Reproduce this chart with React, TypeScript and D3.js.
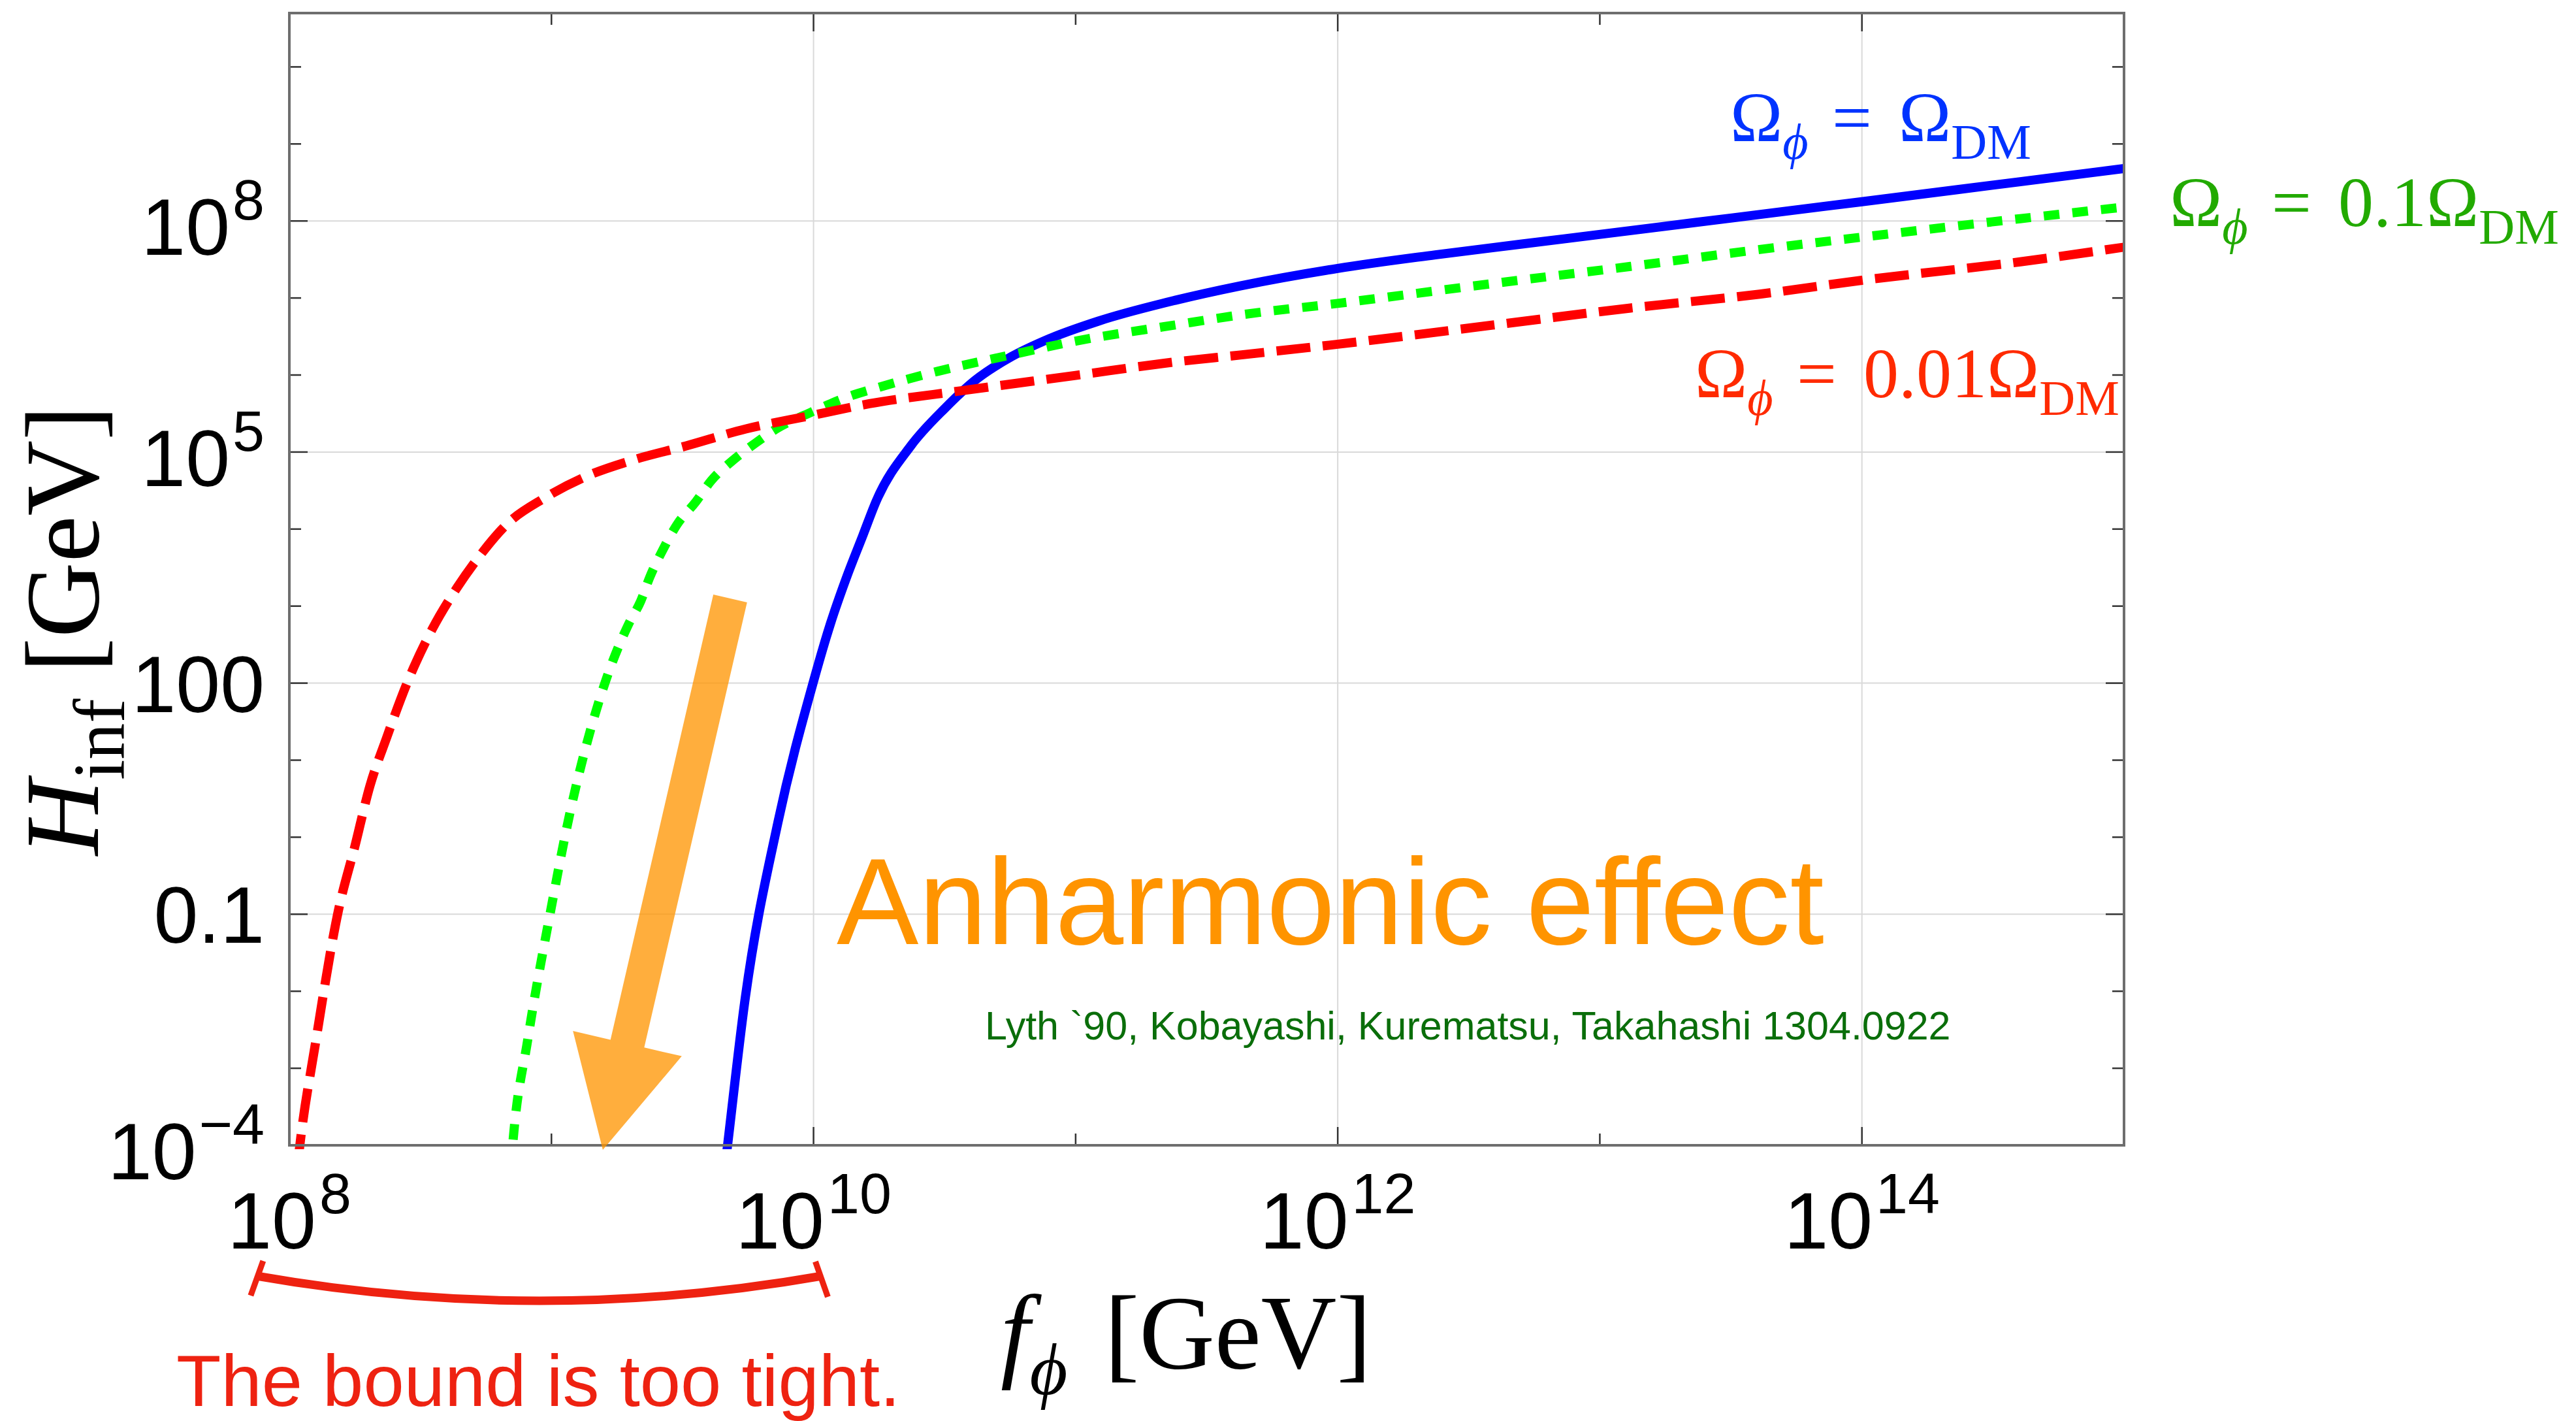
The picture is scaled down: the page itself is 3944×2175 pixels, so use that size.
import React, { useEffect } from "react";
import * as d3 from "d3";

// ---- canvas & plot frame -------------------------------------------------
const W = 3944;
const H = 2175;
const plot = { left: 443, right: 3252, top: 20, bottom: 1753 };

// ---- axes ----------------------------------------------------------------
const xDomain: [number, number] = [1e8, 1e15];
const yDomain: [number, number] = [1e-4, 5e10];
const xTickExps = [8, 9, 10, 11, 12, 13, 14, 15];
const xLabelExps = [8, 10, 12, 14];
const xGridExps = [10, 12, 14];
const yTickExps = [-4, -3, -2, -1, 0, 1, 2, 3, 4, 5, 6, 7, 8, 9, 10];
const yLabelExps = [-4, -1, 2, 5, 8];
const yLabelBase = ["10", "0.1", "100", "10", "10"];
const yLabelSup = ["\u22124", "", "", "5", "8"];
const yGridExps = [-1, 2, 5, 8];

// ---- curves: log10 f_phi [GeV] vs log10 H_inf [GeV] ------------------------
// Omega_phi = Omega_DM
const dmLogF = [9.665, 9.672, 9.737, 9.864, 9.998, 10.065, 10.126, 10.188, 10.24, 10.371, 10.502, 10.616, 10.756, 10.878, 11.087, 11.38, 11.628, 12.0, 12.372, 12.868, 13.364, 14.0, 14.604, 15.0];
const dmLogH = [-4.2, -4.0, -2.15, 0.19, 2.0, 2.777, 3.374, 3.916, 4.37, 5.08, 5.57, 5.93, 6.24, 6.44, 6.7, 6.97, 7.157, 7.384, 7.56, 7.77, 7.98, 8.25, 8.51, 8.68];

// Omega_phi = 0.1 Omega_DM
const tenthLogF = [8.845, 8.852, 8.91, 8.997, 9.069, 9.14, 9.21, 9.296, 9.34, 9.375, 9.427, 9.479, 9.55, 9.61, 9.69, 9.777, 9.864, 9.986, 10.126, 10.265, 10.476, 10.738, 11.0, 11.38, 11.628, 12.0, 12.62, 13.117, 13.61, 14.0, 14.604, 15.0];
const tenthLogH = [-4.3, -4.0, -2.62, -0.955, 0.29, 1.28, 2.06, 2.777, 3.06, 3.374, 3.744, 4.058, 4.35, 4.63, 4.885, 5.113, 5.313, 5.51, 5.71, 5.856, 6.05, 6.25, 6.44, 6.65, 6.78, 6.93, 7.2, 7.41, 7.63, 7.79, 8.03, 8.18];

// Omega_phi = 0.01 Omega_DM
const hundredthLogF = [8.03, 8.04, 8.1, 8.187, 8.25, 8.307, 8.37, 8.449, 8.545, 8.64, 8.728, 8.832, 8.972, 9.13, 9.305, 9.514, 9.742, 9.986, 10.213, 10.563, 11.0, 11.38, 11.628, 12.0, 12.62, 13.117, 13.61, 14.0, 14.604, 15.0];
const hundredthLogH = [-4.3, -4.0, -2.67, -0.955, -0.12, 0.66, 1.28, 2.0, 2.7, 3.24, 3.66, 4.07, 4.4, 4.68, 4.89, 5.08, 5.3, 5.47, 5.627, 5.795, 5.995, 6.17, 6.26, 6.4, 6.66, 6.87, 7.05, 7.23, 7.47, 7.66];

// ---- annotations ---------------------------------------------------------
// arrow tail/tip in (log10 f, log10 H)
const arrowTail = [9.682, 3.1];
const arrowTip = [9.196, -4.06];
// span of the "too tight" bracket in log10 f
const boundSpan = [7.875, 10.032];

const serif = '"Liberation Serif", "Times New Roman", "DejaVu Serif", serif';
const sans = '"Liberation Sans", Arial, Helvetica, sans-serif';

const x = d3.scaleLog().domain(xDomain).range([plot.left, plot.right]);
const y = d3.scaleLog().domain(yDomain).range([plot.bottom, plot.top]);

const pairs = (fs: number[], hs: number[]) => fs.map((f, i) => [f, hs[i]] as [number, number]);

const lineGen = d3
  .line<[number, number]>()
  .x((d) => x(Math.pow(10, d[0])))
  .y((d) => y(Math.pow(10, d[1])))
  .curve(d3.curveMonotoneX);

function OmegaLabel({ x0, y0, color, coef }: { x0: number; y0: number; color: string; coef: string }) {
  return (
    <text x={x0 - 2} y={y0} fill={color} fontFamily={serif} fontSize={108}>
      <tspan>Ω</tspan>
      <tspan fontSize={76} fontStyle="italic" dy={27}>
        ϕ
      </tspan>
      <tspan x={x0 + 154} dy={-27}>
        =
      </tspan>
      <tspan x={x0 + 256}>{coef}Ω</tspan>
      <tspan fontSize={76} dy={27}>
        DM
      </tspan>
    </text>
  );
}

function Arrow() {
  const p0 = [x(Math.pow(10, arrowTail[0])), y(Math.pow(10, arrowTail[1]))];
  const p1 = [x(Math.pow(10, arrowTip[0])), y(Math.pow(10, arrowTip[1]))];
  const dx = p1[0] - p0[0];
  const dy = p1[1] - p0[1];
  const len = Math.hypot(dx, dy);
  const ux = dx / len;
  const uy = dy / len;
  const px = -uy;
  const py = ux;
  const sw = 26.5;
  const hw = 85.5;
  const hl = 167;
  const bx = p1[0] - ux * hl;
  const by = p1[1] - uy * hl;
  const pts = [
    [p0[0] + px * sw, p0[1] + py * sw],
    [bx + px * sw, by + py * sw],
    [bx + px * hw, by + py * hw],
    [p1[0], p1[1]],
    [bx - px * hw, by - py * hw],
    [bx - px * sw, by - py * sw],
    [p0[0] - px * sw, p0[1] - py * sw],
  ];
  return <polygon points={pts.map((p) => p.join(",")).join(" ")} fill="#FF9400" fillOpacity={0.76} />;
}

function Bracket() {
  const xl = x(Math.pow(10, boundSpan[0]));
  const xr = x(Math.pow(10, boundSpan[1]));
  const yEnd = 1953;
  const sag = 38;
  const xm = (xl + xr) / 2;
  const color = "#EE2211";
  return (
    <g stroke={color} fill="none">
      <path d={`M${xl},${yEnd} Q${xm},${yEnd + 2 * sag} ${xr},${yEnd}`} strokeWidth={13} />
      <line x1={xl + 10} y1={yEnd - 23} x2={xl - 9} y2={yEnd + 30} strokeWidth={9} />
      <line x1={xr - 10} y1={yEnd - 22} x2={xr + 9} y2={yEnd + 32} strokeWidth={9} />
    </g>
  );
}

export default function App() {
  useEffect(() => {
    document.body.style.margin = "0";
    document.body.style.overflow = "hidden";
  }, []);

  const pw = plot.right - plot.left;
  const ph = plot.bottom - plot.top;
  const tickColor = "#333";

  return (
    <svg width={W} height={H} style={{ position: "absolute", left: 0, top: 0 }}>
      <rect x={0} y={0} width={W} height={H} fill="#fff" />
      <defs>
        <clipPath id="plotClip">
          <rect x={plot.left} y={plot.top} width={pw} height={ph + 6} />
        </clipPath>
      </defs>

      {/* grid */}
      <g stroke="#d9d9d9" strokeWidth={2}>
        {xGridExps.map((e) => (
          <line key={"gx" + e} x1={x(Math.pow(10, e))} x2={x(Math.pow(10, e))} y1={plot.top} y2={plot.bottom} />
        ))}
        {yGridExps.map((e) => (
          <line key={"gy" + e} y1={y(Math.pow(10, e))} y2={y(Math.pow(10, e))} x1={plot.left} x2={plot.right} />
        ))}
      </g>

      {/* ticks on all four sides */}
      <g stroke={tickColor} strokeWidth={2.5}>
        {xTickExps.map((e) => {
          const xx = x(Math.pow(10, e));
          const L = xLabelExps.includes(e) ? 28 : 18;
          return (
            <g key={"tx" + e}>
              <line x1={xx} x2={xx} y1={plot.bottom} y2={plot.bottom - L} />
              <line x1={xx} x2={xx} y1={plot.top} y2={plot.top + L} />
            </g>
          );
        })}
        {yTickExps.map((e) => {
          const yy = y(Math.pow(10, e));
          const L = yLabelExps.includes(e) ? 28 : 18;
          return (
            <g key={"ty" + e}>
              <line x1={plot.left} x2={plot.left + L} y1={yy} y2={yy} />
              <line x1={plot.right} x2={plot.right - L} y1={yy} y2={yy} />
            </g>
          );
        })}
      </g>

      {/* curves */}
      <g clipPath="url(#plotClip)" fill="none" strokeLinecap="butt" strokeLinejoin="round">
        <path d={lineGen(pairs(dmLogF, dmLogH)) || ""} stroke="#0000FF" strokeWidth={14} />
        <path d={lineGen(pairs(tenthLogF, tenthLogH)) || ""} stroke="#00FF00" strokeWidth={14} strokeDasharray="24 20" />
        <path d={lineGen(pairs(hundredthLogF, hundredthLogH)) || ""} stroke="#FF0000" strokeWidth={14} strokeDasharray="52 19" />
      </g>

      {/* frame */}
      <rect x={plot.left} y={plot.top} width={pw} height={ph} fill="none" stroke="#6e6e6e" strokeWidth={4} />

      {/* tick labels */}
      <g fontFamily={sans} fill="#000">
        {xLabelExps.map((e) => (
          <text key={"lx" + e} x={x(Math.pow(10, e))} y={1911} textAnchor="middle" fontSize={122}>
            10
            <tspan dx={5} dy={-54} fontSize={88}>
              {e}
            </tspan>
          </text>
        ))}
        {yLabelExps.map((e, i) => {
          const yy = y(Math.pow(10, e));
          const sup = yLabelSup[i];
          return (
            <text key={"ly" + e} x={405} y={yy + (sup ? 52 : 44)} textAnchor="end" fontSize={122}>
              {yLabelBase[i]}
              {sup ? (
                <tspan dx={4} dy={-54} fontSize={88}>
                  {sup}
                </tspan>
              ) : null}
            </text>
          );
        })}
      </g>

      {/* axis titles */}
      <g fontFamily={serif} fill="#000">
        <text x={1532} y={2094} fontSize={160} fontStyle="italic">
          f
          <tspan fontSize={112} dy={40}>
            ϕ
          </tspan>
        </text>
        <text x={1691} y={2094} fontSize={160}>
          [GeV]
        </text>
        <text transform="translate(150,965) rotate(-90)" textAnchor="middle" fontSize={160}>
          <tspan fontStyle="italic">H</tspan>
          <tspan fontSize={112} dy={40}>
            inf
          </tspan>
          <tspan dy={-40}> [GeV]</tspan>
        </text>
      </g>

      {/* curve labels */}
      <OmegaLabel x0={2651} y0={216} color="#0033FF" coef="" />
      <OmegaLabel x0={3324} y0={346} color="#22AA00" coef="0.1" />
      <OmegaLabel x0={2597} y0={608} color="#FF2A00" coef="0.01" />

      {/* anharmonic effect annotation */}
      <Arrow />
      <text x={1281} y={1445} fontFamily={sans} fontSize={188} fill="#FF9400">
        Anharmonic effect
      </text>
      <text x={1508} y={1591} fontFamily={sans} fontSize={61} fill="#0A6E0A">
        Lyth `90, Kobayashi, Kurematsu, Takahashi 1304.0922
      </text>

      {/* bound bracket */}
      <Bracket />
      <text x={270} y={2152} fontFamily={sans} fontSize={112} fill="#EE2211">
        The bound is too tight.
      </text>
    </svg>
  );
}
